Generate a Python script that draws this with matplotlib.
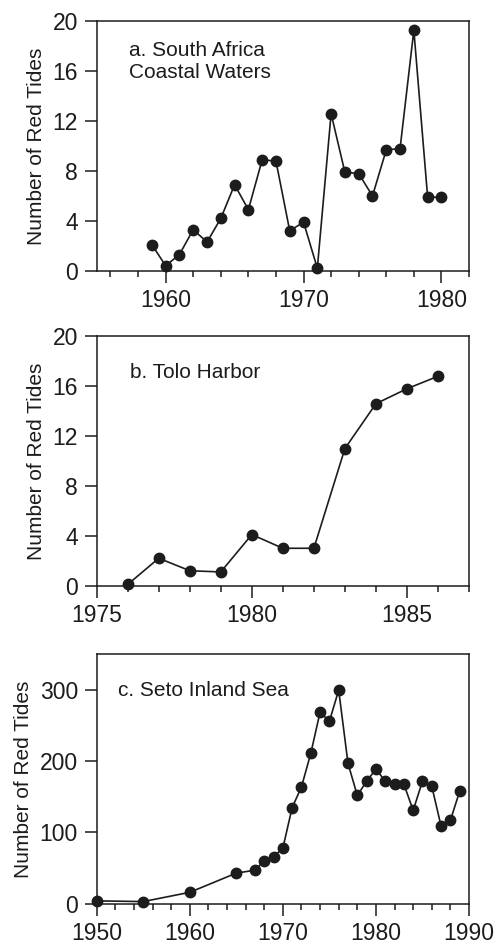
import matplotlib
matplotlib.use('Agg')
import matplotlib.pyplot as plt
from matplotlib.ticker import MultipleLocator

plt.rcParams['font.family'] = ['Liberation Sans', 'DejaVu Sans']

ink = '#1c1c1c'

# a. South Africa coastal waters
years_a = [1959, 1960, 1961, 1962, 1963, 1964, 1965, 1966, 1967, 1968, 1969,
           1970, 1971, 1972, 1973, 1974, 1975, 1976, 1977, 1978, 1979, 1980]
tides_a = [2.1, 0.4, 1.3, 3.3, 2.3, 4.2, 6.9, 4.9, 8.9, 8.8, 3.2,
           3.9, 0.2, 12.6, 7.9, 7.8, 6.0, 9.7, 9.8, 19.3, 5.9, 5.9]

# b. Tolo Harbor
years_b = [1976, 1977, 1978, 1979, 1980, 1981, 1982, 1983, 1984, 1985, 1986]
tides_b = [0.1, 2.2, 1.2, 1.1, 4.1, 3.0, 3.0, 11.0, 14.6, 15.8, 16.8]

# c. Seto Inland Sea
years_c = [1950, 1955, 1960, 1965, 1967, 1968, 1969, 1970, 1971, 1972, 1973,
           1974, 1975, 1976, 1977, 1978, 1979, 1980, 1981, 1982, 1983, 1984,
           1985, 1986, 1987, 1988, 1989]
tides_c = [4, 3, 16, 43, 47, 60, 66, 78, 135, 164, 211,
           269, 256, 300, 197, 152, 172, 189, 172, 168, 168, 131,
           172, 165, 109, 117, 158]

fig = plt.figure(figsize=(5, 9.46), dpi=100)
left, width, height = 0.1934, 0.7446, 0.2635
ax_a = fig.add_axes([left, 0.7138, width, height])
ax_b = fig.add_axes([left, 0.3809, width, height])
ax_c = fig.add_axes([left, 0.0447, width, height])


def style(ax, xlim, ylim, xmajor, xminor, ymajor):
    ax.set_xlim(*xlim)
    ax.set_ylim(*ylim)
    ax.xaxis.set_major_locator(MultipleLocator(xmajor))
    ax.xaxis.set_minor_locator(MultipleLocator(xminor))
    ax.yaxis.set_major_locator(MultipleLocator(ymajor))
    ax.tick_params(axis='both', which='major', direction='out', length=8.5,
                   width=1.1, color=ink, labelsize=16.5, pad=5, labelcolor=ink)
    ax.tick_params(axis='both', which='minor', direction='out', length=4.3,
                   width=1.1, color=ink)
    ax.tick_params(axis='y', which='minor', left=False)
    for s in ax.spines.values():
        s.set_linewidth(1.1)
        s.set_color(ink)
    ax.set_ylabel('Number of Red Tides', fontsize=15, color=ink, labelpad=5)


def draw(ax, x, y):
    ax.plot(x, y, color=ink, linewidth=1.2, marker='o', markersize=7.5,
            markerfacecolor=ink, markeredgecolor=ink, clip_on=False, zorder=3)


draw(ax_a, years_a, tides_a)
style(ax_a, (1955, 1982), (0, 20), 10, 2, 4)
ax_a.text(0.087, 0.92, 'a. South Africa\nCoastal Waters', transform=ax_a.transAxes,
          fontsize=15, va='top', ha='left', color=ink, linespacing=1.2)

draw(ax_b, years_b, tides_b)
style(ax_b, (1975, 1987), (0, 20), 5, 1, 4)
ax_b.text(0.09, 0.857, 'b. Tolo Harbor', transform=ax_b.transAxes,
          fontsize=15, va='center', ha='left', color=ink)

draw(ax_c, years_c, tides_c)
style(ax_c, (1950, 1990), (0, 350), 10, 2, 100)
ax_c.text(0.058, 0.856, 'c. Seto Inland Sea', transform=ax_c.transAxes,
          fontsize=15, va='center', ha='left', color=ink)

fig.savefig('out.png', dpi=100)
